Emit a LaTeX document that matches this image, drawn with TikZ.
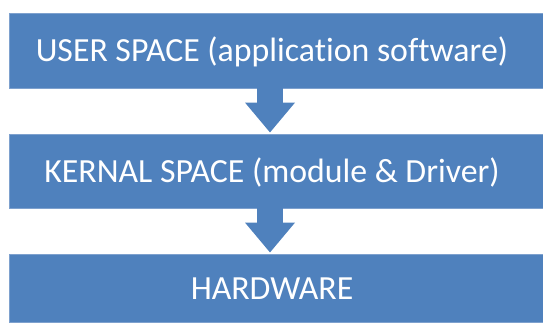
\documentclass[tikz,border=0pt]{standalone}
\usepackage{fontspec}
\setmainfont{Carlito}[Ligatures={NoCommon}]
\usetikzlibrary{arrows.meta}
\definecolor{boxblue}{HTML}{4F81BD}
\definecolor{edgeblue}{HTML}{7EA1CE}
\tikzset{
  layerbox/.style={rectangle, fill=boxblue, draw=edgeblue, line width=0.8pt,
    minimum width=536pt, inner sep=0pt, text=white,
    font=\fontsize{33.8pt}{37pt}\selectfont, text height=22pt, text depth=0pt},
  blockarrow/.style={boxblue, line width=26pt,
    -{Triangle[width=48pt,length=30pt]}, shorten >=1pt}
}
\begin{document}
\begin{tikzpicture}[x=1pt,y=-1pt]
\useasboundingbox (0,0) rectangle (543,322);
\clip (0,0) rectangle (543,322);
\node[layerbox, minimum height=75pt] (user) at (277,50.5)
  {\hspace*{-10pt}USER SPACE (application software)};
\node[layerbox, minimum height=74pt] (kernel) at (277,171)
  {\hspace*{-10pt}KERNAL SPACE (module \& Driver)};
\node[layerbox, minimum height=68pt] (hw) at (277,288)
  {\hspace*{-10pt}HARDWARE};
\coordinate (ax) at (270,0);
\draw[blockarrow] (user.south -| ax) -- (kernel.north -| ax);
\draw[blockarrow] (kernel.south -| ax) -- (hw.north -| ax);
\end{tikzpicture}
\end{document}
